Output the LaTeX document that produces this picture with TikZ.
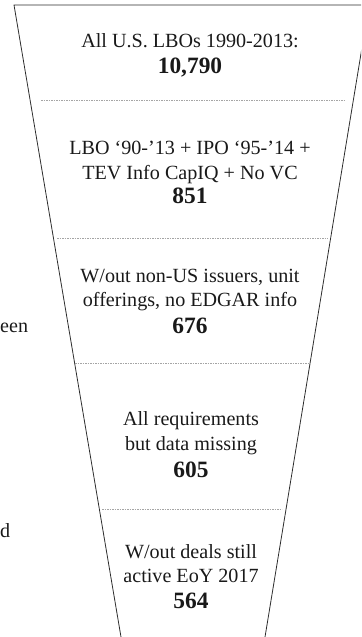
\documentclass[tikz,border=0pt]{standalone}
\usepackage{fontspec}
\setmainfont{Liberation Serif}
\usepackage{xcolor}
\definecolor{wallgray}{RGB}{45,45,45}
\definecolor{cutgray}{RGB}{165,165,165}
\definecolor{inkblack}{RGB}{25,25,25}
\newcommand{\dealcount}[1]{{\fontsize{23.5}{24.5}\selectfont\bfseries #1}}

\begin{document}
\begin{tikzpicture}[
    x=1bp, y=-1bp,
    stage/.style={align=center, inner sep=0pt, text=inkblack, font=\fontsize{20.2}{24.5}\selectfont},
    margin/.style={inner sep=0pt, text=inkblack, font=\fontsize{20.2}{24.5}\selectfont},
    wall/.style={draw=wallgray, line width=0.8bp},
    cut/.style={draw=cutgray, line width=0.6bp, dash pattern=on 1.5bp off 1bp},
]
    \useasboundingbox (0,0) rectangle (361,637);
    \clip (0,0) rectangle (361,637);

    \coordinate (tl) at (14,5);
    \coordinate (tr) at (369,5);
    \coordinate (bl) at (121,637);
    \coordinate (br) at (265,637);
    \draw[wall] (bl) -- (tl) -- (tr) -- (br);

    \coordinate (c1l) at (41,100);  \coordinate (c1r) at (345,100);
    \coordinate (c2l) at (57,238);  \coordinate (c2r) at (328,238);
    \coordinate (c3l) at (75,363);  \coordinate (c3r) at (308,363);
    \coordinate (c4l) at (102,509); \coordinate (c4r) at (282,509);
    \foreach \i in {1,...,4}
        \draw[cut] (c\i l) -- (c\i r);

    \node[stage] (allLBO) at (190,55.5) {All U.S. LBOs 1990-2013:\\[2bp]\dealcount{10,790}};
    \node[stage] (capiq) at (190,172.5) {LBO ‘90-’13 + IPO ‘95-’14 +\\TEV Info CapIQ + No VC\\\dealcount{851}};
    \node[stage] (edgar) at (190,301.5) {W/out non-US issuers, unit\\offerings, no EDGAR info\\[3bp]\dealcount{676}};
    \node[stage] (missing) at (191,445) {All requirements\\but data missing\\[3bp]\dealcount{605}};
    \node[stage] (active) at (191,576.5) {W/out deals still\\active EoY 2017\\[1bp]\dealcount{564}};

    \node[margin, anchor=base west] (frag1) at (0,332) {een};
    \node[margin, anchor=base west] (frag2) at (0,537) {d};

\end{tikzpicture}
\end{document}
